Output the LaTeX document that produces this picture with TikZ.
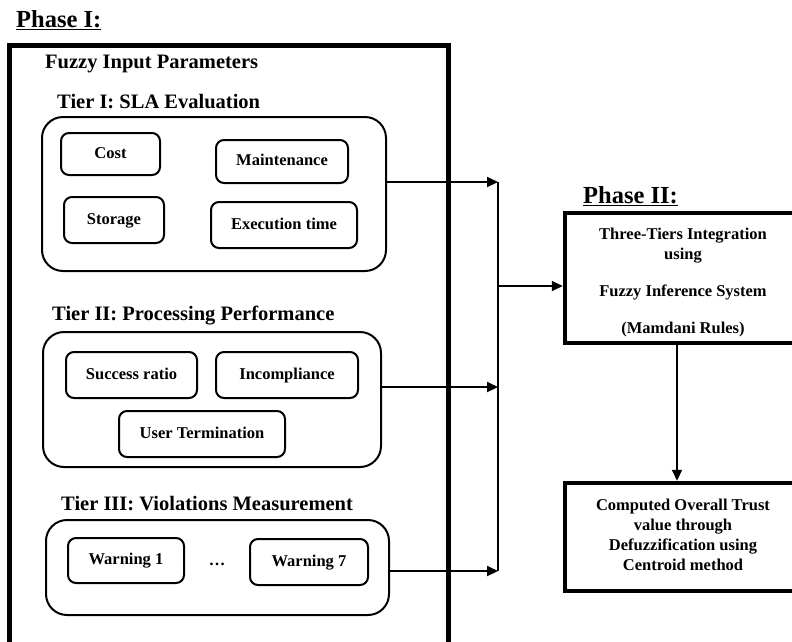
\documentclass[tikz,border=0pt]{standalone}
\usepackage{fontspec}
\setmainfont{Liberation Serif}
\usetikzlibrary{arrows.meta, positioning}

\begin{document}
\begin{tikzpicture}[
    x=1pt, y=-1pt,
    phase/.style={font=\fontsize{24.5}{28}\selectfont\bfseries, anchor=base west, inner sep=0pt},
    head/.style={font=\fontsize{20.5}{24}\selectfont\bfseries, anchor=base west, inner sep=0pt},
    tierbox/.style={draw, line width=2pt, rounded corners=21pt},
    param/.style={
        draw, line width=2pt, rounded corners=8pt,
        font=\fontsize{16.5}{20}\selectfont\bfseries, align=center,
        text height=11.5pt, text depth=3.5pt
    },
    bigbox/.style={draw, line width=4.5pt},
    boxtext/.style={font=\fontsize{16.5}{20}\selectfont\bfseries, align=center},
    arr/.style={-{Triangle[length=11pt, width=10pt]}, line width=2pt}
]
\path[use as bounding box, clip] (0,0) rectangle (792,641);

% Phase I
\node[phase] (ph1) at (16,27) {\underline{Phase I:}};
\node[draw, line width=5pt, minimum width=439pt, minimum height=640pt, anchor=north west] (p1) at (6.5,42.5) {};
\node[head] (fip) at (45,68) {Fuzzy Input Parameters};

\node[head] (t1l) at (57,108) {Tier I: SLA Evaluation};
\node[tierbox, minimum width=344pt, minimum height=154pt] (t1) at (214,194) {};
\node[param, minimum width=99pt,  minimum height=42pt] (cost)  at (110.5,154) {Cost};
\node[param, minimum width=132pt, minimum height=43pt] (maint) at (282,161.5) {Maintenance};
\node[param, minimum width=100pt, minimum height=46pt] (stor)  at (114,220) {Storage};
\node[param, minimum width=146pt, minimum height=46pt] (exec)  at (284,225) {Execution time};

\node[head] (t2l) at (52,320) {Tier II: Processing Performance};
\node[tierbox, minimum width=338pt, minimum height=135pt] (t2) at (212,399.5) {};
\node[param, minimum width=131pt, minimum height=46pt] (succ)   at (131.5,375) {Success ratio};
\node[param, minimum width=142pt, minimum height=46pt] (incomp) at (287,375) {Incompliance};
\node[param, minimum width=166pt, minimum height=46pt] (uterm)  at (202,434) {User Termination};

\node[head] (t3l) at (61,510) {Tier III: Violations Measurement};
\node[tierbox, minimum width=343pt, minimum height=95pt] (t3) at (217.5,567.5) {};
\node[param, minimum width=116pt, minimum height=45pt] (w1) at (126,560.5) {Warning 1};
\node[boxtext] (dots) at (217,564) {\dots};
\node[param, minimum width=118pt, minimum height=46pt] (w7) at (309,562) {Warning 7};

% Phase II
\node[phase] (ph2) at (583,203) {\underline{Phase II:}};
\node[bigbox, minimum width=236pt, minimum height=130pt] (fis) at (683,278) {};
\node[boxtext] (fist) at (683,283)
    {Three-Tiers Integration\\using\\[17pt]Fuzzy Inference System\\[17pt](Mamdani Rules)};
\node[bigbox, minimum width=236pt, minimum height=108pt] (trust) at (683,537) {};
\node[boxtext] (trustt) at (683,535)
    {Computed Overall Trust\\value through\\Defuzzification using\\Centroid method};

% connectors
\coordinate (bus) at (498,286);
\draw[arr] ([yshift=12pt]t1.east) -- ([yshift=12pt]t1.east -| bus);
\draw[arr] ([yshift=12.5pt]t2.east) -- ([yshift=12.5pt]t2.east -| bus);
\draw[arr] ([yshift=-3.5pt]t3.east) -- ([yshift=-3.5pt]t3.east -| bus);
\draw[line width=2pt] ([yshift=12pt]t1.east -| bus) -- ([yshift=-3.5pt]t3.east -| bus);
\draw[arr] (bus) -- (bus -| fis.west);
\draw[arr] ([xshift=-6pt]fis.south) -- ([xshift=-6pt]trust.north);

\end{tikzpicture}
\end{document}
